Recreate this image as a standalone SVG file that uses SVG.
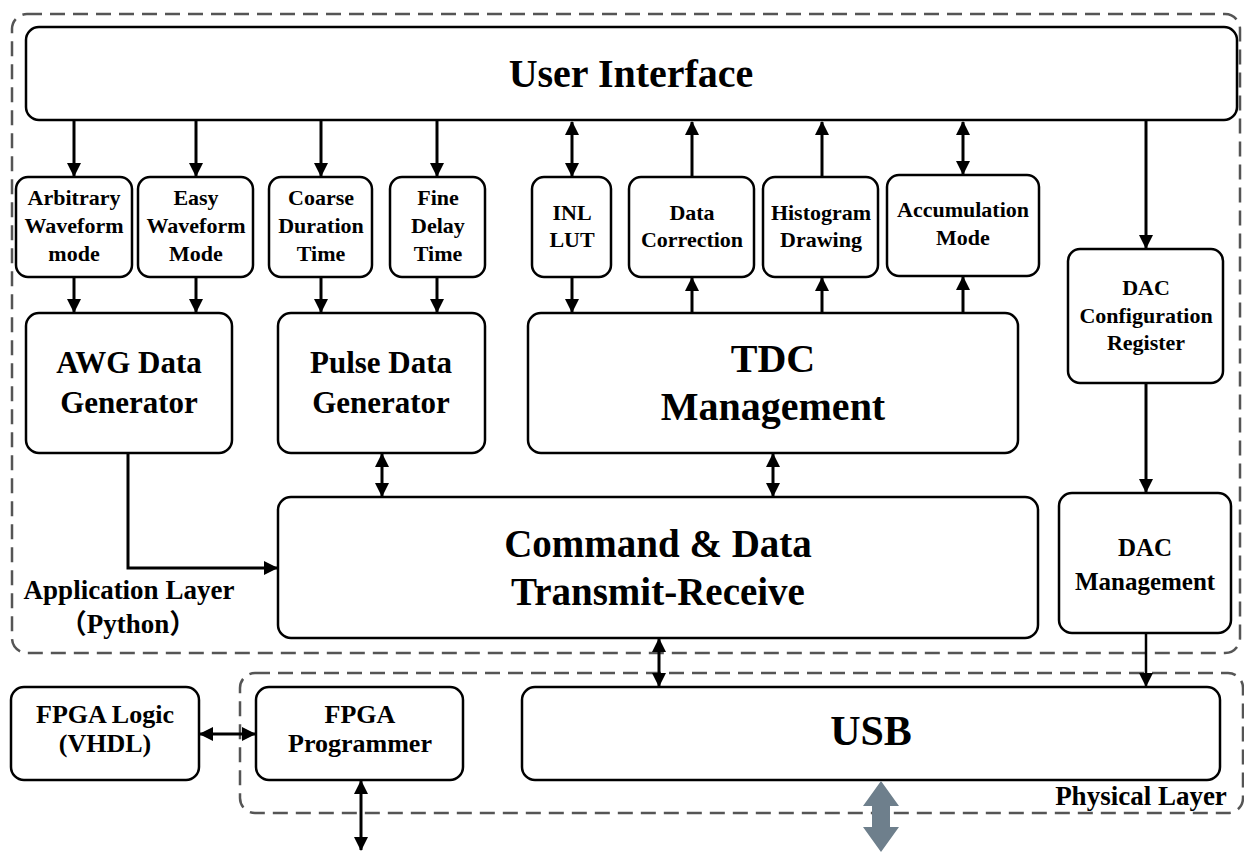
<svg xmlns="http://www.w3.org/2000/svg" width="1244" height="852" viewBox="0 0 1244 852">
<style>
.box{fill:#fff;stroke:#000;stroke-width:2.5}
.layer{fill:none;stroke:#555;stroke-width:2.5;stroke-dasharray:15 8}
text{font-family:"Liberation Serif","Times New Roman","Noto Sans CJK SC",serif;font-weight:bold;fill:#000;text-anchor:middle}
.s{font-size:22px}
.m{font-size:26px}
.l{font-size:31px}
.xl{font-size:40px}
.c{fill:none;stroke:#000;stroke-width:3}
</style>
<defs>
<marker id="ah" markerUnits="userSpaceOnUse" markerWidth="14" markerHeight="14" refX="13" refY="7" orient="auto-start-reverse">
<path d="M0,0 L14,7 L0,14 z" fill="#000"/>
</marker>
</defs>
<rect width="1244" height="852" fill="#fff"/>
<g id="layers">
<rect class="layer" x="12" y="14" width="1228" height="639" rx="15"/>
<rect class="layer" x="240" y="673" width="1003" height="140" rx="15"/>
<text x="129" y="599" style="font-size:27px">Application Layer</text>
<text x="128" y="633" style="font-size:27px">（Python）</text>
<text x="1141" y="805" style="font-size:27px">Physical Layer</text>
</g>
<g id="user-interface">
<rect class="box" x="26" y="27" width="1211" height="93" rx="13"/>
<text class="xl" x="631" y="87">User Interface</text>
</g>
<g id="arbitrary">
<rect class="box" x="16" y="177" width="116" height="100" rx="12"/>
<text class="s" x="74" y="205">Arbitrary</text><text class="s" x="74" y="233">Waveform</text><text class="s" x="74" y="261">mode</text>
</g>
<g id="easy">
<rect class="box" x="138" y="177" width="115" height="100" rx="12"/>
<text class="s" x="196" y="205">Easy</text><text class="s" x="196" y="233">Waveform</text><text class="s" x="196" y="261">Mode</text>
</g>
<g id="coarse">
<rect class="box" x="269" y="177" width="103" height="100" rx="12"/>
<text class="s" x="321" y="205">Coarse</text><text class="s" x="321" y="233">Duration</text><text class="s" x="321" y="261">Time</text>
</g>
<g id="fine">
<rect class="box" x="390" y="177" width="95" height="100" rx="12"/>
<text class="s" x="438" y="205">Fine</text><text class="s" x="438" y="233">Delay</text><text class="s" x="438" y="261">Time</text>
</g>
<g id="inl">
<rect class="box" x="532" y="177" width="79" height="100" rx="12"/>
<text class="s" x="572" y="220">INL</text><text class="s" x="572" y="247">LUT</text>
</g>
<g id="data-correction">
<rect class="box" x="629" y="177" width="125" height="100" rx="12"/>
<text class="s" x="692" y="220">Data</text><text class="s" x="692" y="247">Correction</text>
</g>
<g id="histogram">
<rect class="box" x="763" y="177" width="115" height="100" rx="12"/>
<text class="s" x="821" y="220">Histogram</text><text class="s" x="821" y="247">Drawing</text>
</g>
<g id="accumulation">
<rect class="box" x="887" y="175" width="152" height="101" rx="12"/>
<text class="s" x="963" y="217">Accumulation</text><text class="s" x="963" y="245">Mode</text>
</g>
<g id="dac-config">
<rect class="box" x="1068" y="249" width="155" height="134" rx="12"/>
<text class="s" x="1146" y="295">DAC</text><text class="s" x="1146" y="323">Configuration</text><text class="s" x="1146" y="350">Register</text>
</g>
<g id="awg">
<rect class="box" x="26" y="313" width="206" height="140" rx="13"/>
<text class="l" x="129" y="373">AWG Data</text><text class="l" x="129" y="413">Generator</text>
</g>
<g id="pulse">
<rect class="box" x="278" y="313" width="207" height="140" rx="13"/>
<text class="l" x="381" y="373">Pulse Data</text><text class="l" x="381" y="413">Generator</text>
</g>
<g id="tdc">
<rect class="box" x="528" y="313" width="490" height="140" rx="13"/>
<text class="xl" x="773" y="372">TDC</text><text class="xl" x="773" y="420">Management</text>
</g>
<g id="command">
<rect class="box" x="278" y="497" width="760" height="141" rx="13"/>
<text x="658" y="557" style="font-size:39px">Command &amp; Data</text><text x="658" y="605" style="font-size:39px">Transmit-Receive</text>
</g>
<g id="dac-mgmt">
<rect class="box" x="1059" y="493" width="172" height="140" rx="13"/>
<text x="1145" y="556" style="font-size:25px">DAC</text><text x="1145" y="590" style="font-size:25px">Management</text>
</g>
<g id="usb">
<rect class="box" x="522" y="687" width="698" height="93" rx="13"/>
<text x="871" y="745" style="font-size:42px">USB</text>
</g>
<g id="fpga-logic">
<rect class="box" x="11" y="687" width="188" height="93" rx="13"/>
<text class="m" x="105" y="723">FPGA Logic</text><text class="m" x="105" y="752">(VHDL)</text>
</g>
<g id="fpga-programmer">
<rect class="box" x="256" y="687" width="207" height="93" rx="13"/>
<text class="m" x="360" y="723">FPGA</text><text class="m" x="360" y="752">Programmer</text>
</g>
<g id="connectors">
<line class="c" x1="74" y1="121" x2="74" y2="176" marker-end="url(#ah)"/>
<line class="c" x1="196" y1="121" x2="196" y2="176" marker-end="url(#ah)"/>
<line class="c" x1="321" y1="121" x2="321" y2="176" marker-end="url(#ah)"/>
<line class="c" x1="437" y1="121" x2="437" y2="176" marker-end="url(#ah)"/>
<line class="c" x1="572" y1="122" x2="572" y2="176" marker-start="url(#ah)" marker-end="url(#ah)"/>
<line class="c" x1="692" y1="177" x2="692" y2="122" marker-end="url(#ah)"/>
<line class="c" x1="822" y1="177" x2="822" y2="122" marker-end="url(#ah)"/>
<line class="c" x1="963" y1="122" x2="963" y2="174" marker-start="url(#ah)" marker-end="url(#ah)"/>
<line class="c" x1="1146" y1="121" x2="1146" y2="248" marker-end="url(#ah)"/>
<line class="c" x1="74" y1="277" x2="74" y2="312" marker-end="url(#ah)"/>
<line class="c" x1="196" y1="277" x2="196" y2="312" marker-end="url(#ah)"/>
<line class="c" x1="321" y1="277" x2="321" y2="312" marker-end="url(#ah)"/>
<line class="c" x1="437" y1="277" x2="437" y2="312" marker-end="url(#ah)"/>
<line class="c" x1="572" y1="277" x2="572" y2="312" marker-end="url(#ah)"/>
<line class="c" x1="692" y1="313" x2="692" y2="278" marker-end="url(#ah)"/>
<line class="c" x1="822" y1="313" x2="822" y2="278" marker-end="url(#ah)"/>
<line class="c" x1="963" y1="313" x2="963" y2="277" marker-end="url(#ah)"/>
<polyline class="c" points="128,453 128,568 277,568" marker-end="url(#ah)"/>
<line class="c" x1="382" y1="454" x2="382" y2="496" marker-start="url(#ah)" marker-end="url(#ah)"/>
<line class="c" x1="773" y1="454" x2="773" y2="496" marker-start="url(#ah)" marker-end="url(#ah)"/>
<line class="c" x1="1146" y1="383" x2="1146" y2="492" marker-end="url(#ah)"/>
<line class="c" x1="659" y1="639" x2="659" y2="686" marker-start="url(#ah)" marker-end="url(#ah)"/>
<line class="c" x1="1146" y1="633" x2="1146" y2="686" style="stroke-width:2.5" marker-end="url(#ah)"/>
<line class="c" x1="200" y1="734" x2="255" y2="734" marker-start="url(#ah)" marker-end="url(#ah)"/>
<line class="c" x1="361" y1="781" x2="361" y2="850" marker-start="url(#ah)" marker-end="url(#ah)"/>
<path d="M881,781 L899,806 L890,806 L890,827 L899,827 L881,852 L863,827 L872,827 L872,806 L863,806 z" fill="#6e7f8c"/>
</g>
</svg>
